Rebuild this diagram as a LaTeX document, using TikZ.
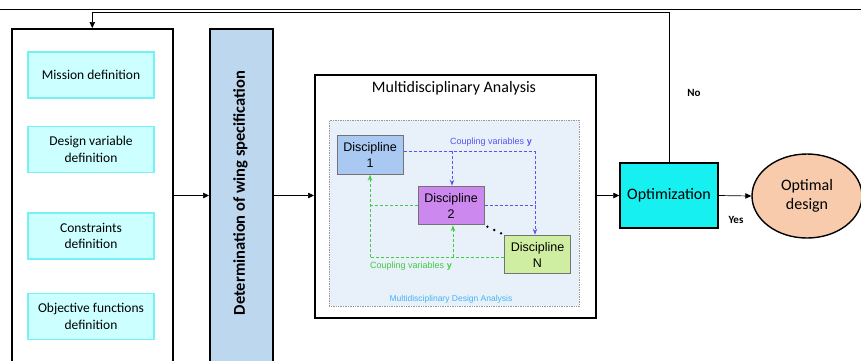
\documentclass[tikz,border=0pt]{standalone}
\usepackage{fontspec}
\setmainfont{Carlito}
\newfontfamily\arialf{Liberation Sans}
\usetikzlibrary{arrows.meta,shapes.geometric,calc}
\definecolor{defbg}{HTML}{CCFFFF}
\definecolor{defbd}{HTML}{77F2F2}
\definecolor{detbg}{HTML}{BDD7EE}
\definecolor{optbg}{HTML}{16F0F0}
\definecolor{ellbg}{HTML}{F8CBAD}
\definecolor{mdabg}{HTML}{E8F0FA}
\definecolor{dA}{HTML}{A9C8F2}
\definecolor{dB}{HTML}{CC88EE}
\definecolor{dC}{HTML}{D0EEA2}
\definecolor{cplblue}{HTML}{5555F5}
\definecolor{cplgreen}{HTML}{44C944}
\definecolor{mdatxt}{HTML}{44B4F4}
\tikzset{
  defbox/.style={draw=defbd, line width=1.2pt, fill=defbg, minimum width=126, minimum height=46, align=center, font=\fontsize{13.5}{16.5}\selectfont},
  bigbox/.style={draw=black, line width=1.6pt, anchor=north west},
  disc/.style={draw=black!55, line width=1pt, minimum width=66, minimum height=38.5, align=center, font=\arialf\fontsize{12.5}{16}\selectfont},
  arr/.style={-{Triangle[length=6pt,width=5.5pt]}, line width=0.7pt},
  bluecpl/.style={draw=cplblue, densely dashed, line width=0.8pt},
  greencpl/.style={draw=cplgreen, densely dashed, line width=0.8pt},
  bluehead/.style={-{Stealth[length=6pt,width=4.5pt,open]}},
  greenhead/.style={-{Stealth[length=6pt,width=4.5pt,open]}},
  lbl/.style={font=\bfseries\fontsize{11}{13}\selectfont}
}
\begin{document}
\begin{tikzpicture}[x=1pt,y=-1pt]
\useasboundingbox (0,0) rectangle (861,360);
\clip (0,0) rectangle (861,360);
% top rule
\draw[line width=0.9pt] (0,9) coordinate (ruleL) -- (861,9) coordinate (ruleR);
% left setup box
\node[bigbox, minimum width=161, minimum height=360] (setup) at (11,28) {};
\node[defbox] (mission) at (91,75) {Mission definition};
\node[defbox] (desvar) at (91,149.5) {Design variable\\definition};
\node[defbox] (constr) at (91,236) {Constraints\\definition};
\node[defbox] (objfun) at (91,316.5) {Objective functions\\definition};
% determination box
\node[bigbox, fill=detbg, minimum width=63, minimum height=360] (det) at (209,28) {};
\node[rotate=90, font=\bfseries\fontsize{16.5}{18}\selectfont] (dettxt) at (240.5,193) {Determination of wing specification};
% MDA box
\node[bigbox, minimum width=281, minimum height=243] (mda) at (314,74) {};
\node[font=\fontsize{16}{18}\selectfont] (mdatitle) at (454,88) {Multidisciplinary Analysis};
\node[draw=black!40, densely dotted, fill=mdabg, line width=0.7pt, minimum width=250, minimum height=186, anchor=north west] (inner) at (329,120) {};
\node[font=\arialf\fontsize{8.5}{10}\selectfont, text=mdatxt] (mdalbl) at (451,299) {Multidisciplinary Design Analysis};
\node[disc, fill=dA] (d1) at (370,155) {Discipline\\1};
\node[disc, fill=dB] (d2) at (451,205.5) {Discipline\\2};
\node[disc, fill=dC] (dn) at (537.5,254.5) {Discipline\\N};
% blue coupling
\coordinate (bR) at (535,151);
\coordinate (bM) at (452,151);
\draw[bluecpl] (d1.east |- bR) -- (bR);
\draw[bluecpl, bluehead] (bR) -- (bR |- dn.north);
\draw[bluecpl, bluehead] (bM) -- (bM |- d2.north);
\draw[bluecpl] (d2.east) -- (d2.east -| bR);
\node[font=\arialf\fontsize{9}{10}\selectfont, text=cplblue, anchor=south] (cplb) at (491,150) {Coupling variables \textbf{y}};
% green coupling
\coordinate (gL) at (370,257);
\coordinate (gM) at (453,257);
\draw[greencpl] (dn.west |- gL) -- (gL);
\draw[greencpl, greenhead] (gL) -- (gL |- d1.south);
\draw[greencpl, greenhead] (gM) -- (gM |- d2.south);
\draw[greencpl] (d2.west) -- (d2.west -| gL);
\node[font=\arialf\fontsize{9}{10}\selectfont, text=cplgreen, anchor=north] (cplg) at (411,258) {Coupling variables \textbf{y}};
% dots
\foreach \t in {0.15,0.5,0.85} \fill ($(d2.south east)!\t!(dn.north west)$) circle (1.3);
% optimization
\node[draw=black, line width=1.4pt, fill=optbg, minimum width=98, minimum height=65, font=\fontsize{16}{18}\selectfont] (opt) at (669,195.5) {Optimization};
\node[ellipse, draw=black, line width=1.4pt, fill=ellbg, minimum width=110, minimum height=84, align=center, font=\fontsize{16}{19}\selectfont] (optd) at (807,196) {Optimal\\design};
% arrows
\draw[arr] (setup.east |- opt.west) -- (det.west |- opt.west);
\draw[arr] (det.east |- opt.west) -- (mda.west |- opt.west);
\draw[arr] (mda.east |- opt.west) -- (opt.west);
\draw[arr] (opt.east) -- (optd.west);
\coordinate (fb) at (669,12);
\draw[arr] (opt.north) -- (fb) -| (setup.north);
\node[lbl] (no) at (694,93) {No};
\node[lbl] (yes) at (736,220) {Yes};
\end{tikzpicture}
\end{document}
